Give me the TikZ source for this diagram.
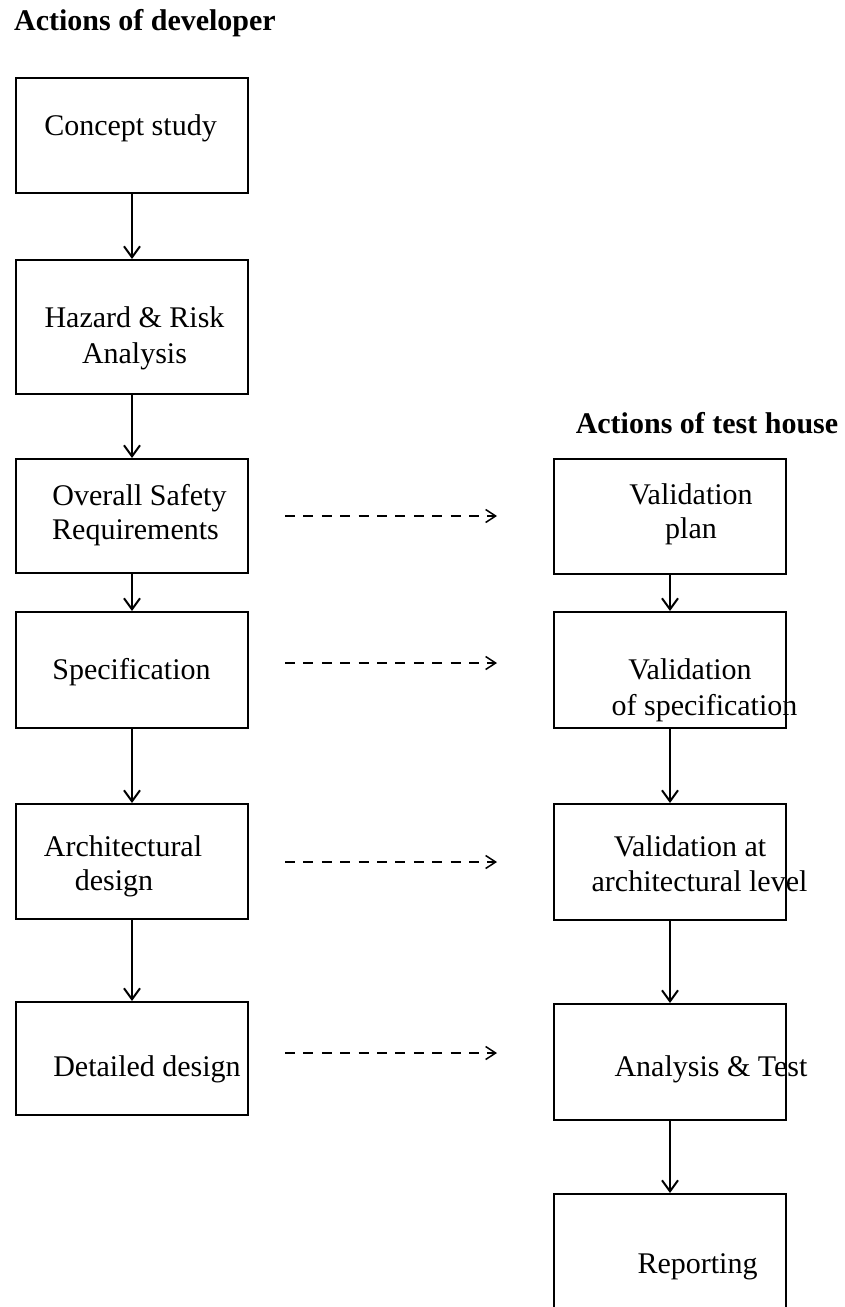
\documentclass[tikz,border=0pt]{standalone}
\usepackage{fontspec}
\setmainfont{Liberation Serif}
\usetikzlibrary{arrows.meta}
\begin{document}
\begin{tikzpicture}[x=1pt,y=-1pt,
  box/.style={draw,line width=2pt,minimum width=232pt,inner sep=0pt},
  lbl/.style={anchor=base,inner sep=0pt,font=\fontsize{30}{35}\selectfont},
  ttl/.style={anchor=base,inner sep=0pt,font=\fontsize{30}{35}\selectfont\bfseries},
  flow/.style={line width=2pt,-{Straight Barb[length=11pt,width=16pt,line width=2pt]}},
  dasharrow/.style={line width=1.5pt,dash pattern=on 10pt off 8.4pt,-{Straight Barb[length=10pt,width=13pt,line width=1.5pt]}}]
\useasboundingbox (0,0) rectangle (845,1307);
\clip (0,0) rectangle (845,1307);

% titles
\node[ttl] (t1) at (145,30) {Actions of developer};
\node[ttl] (t2) at (707,433) {Actions of test house};

% left column boxes
\node[box,minimum height=115pt] (c1) at (132,135.5) {};
\node[box,minimum height=134pt] (c2) at (132,327) {};
\node[box,minimum height=114pt] (c3) at (132,516) {};
\node[box,minimum height=116pt] (c4) at (132,670) {};
\node[box,minimum height=115pt] (c5) at (132,861.5) {};
\node[box,minimum height=113pt] (c6) at (132,1058.5) {};

% right column boxes
\node[box,minimum height=115pt] (r1) at (670,516.5) {};
\node[box,minimum height=116pt] (r2) at (670,670) {};
\node[box,minimum height=116pt] (r3) at (670,862) {};
\node[box,minimum height=116pt] (r4) at (670,1062) {};
\node[box,minimum height=136pt] (r5) at (670,1262) {};

% left texts
\node[lbl] (c1a) at (130.5,135) {Concept study};
\node[lbl] (c2a) at (134.5,327) {Hazard \& Risk};
\node[lbl] (c2b) at (134.5,363) {Analysis};
\node[lbl] (c3a) at (139.5,505) {Overall Safety};
\node[lbl] (c3b) at (135.5,539) {Requirements};
\node[lbl] (c4a) at (131.5,679) {Specification};
\node[lbl] (c5a) at (123,856) {Architectural};
\node[lbl] (c5b) at (114,890) {design};
\node[lbl] (c6a) at (147,1076) {Detailed design};

% right texts
\node[lbl] (r1a) at (691,504) {Validation};
\node[lbl] (r1b) at (691,538) {plan};
\node[lbl] (r2a) at (690,679) {Validation};
\node[lbl] (r2b) at (704.5,715) {of specification};
\node[lbl] (r3a) at (690,856) {Validation at};
\node[lbl] (r3b) at (699.5,891) {architectural level};
\node[lbl] (r4a) at (711,1076) {Analysis \& Test};
\node[lbl] (r5a) at (697.5,1273) {Reporting};

% solid flow arrows
\draw[flow] (c1) -- (c2);
\draw[flow] (c2) -- (c3);
\draw[flow] (c3) -- (c4);
\draw[flow] (c4) -- (c5);
\draw[flow] (c5) -- (c6);
\draw[flow] (r1) -- (r2);
\draw[flow] (r2) -- (r3);
\draw[flow] (r3) -- (r4);
\draw[flow] (r4) -- (r5);

% dashed arrows
\draw[dasharrow,shorten <=36pt,shorten >=56pt] (c3.east) -- (c3.east -| r1.west);
\draw[dasharrow,shorten <=36pt,shorten >=56pt] ([yshift=7pt]c4.east) -- ([yshift=7pt]c4.east -| r2.west);
\draw[dasharrow,shorten <=36pt,shorten >=56pt] ([yshift=-0.5pt]c5.east) -- ([yshift=-0.5pt]c5.east -| r3.west);
\draw[dasharrow,shorten <=36pt,shorten >=56pt] ([yshift=5.5pt]c6.east) -- ([yshift=5.5pt]c6.east -| r4.west);
\end{tikzpicture}
\end{document}
